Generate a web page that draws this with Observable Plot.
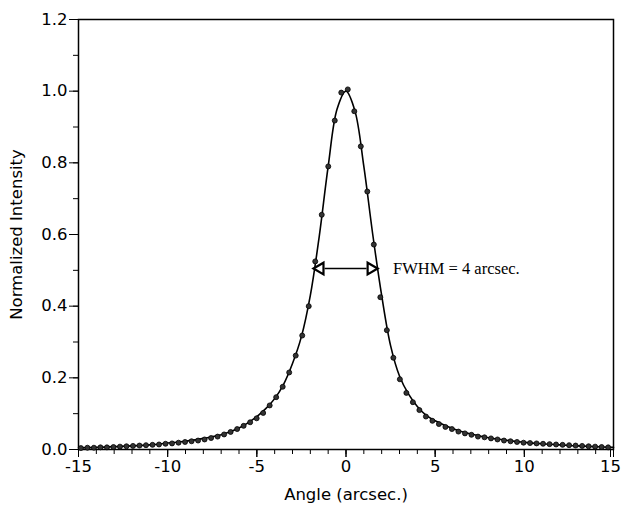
<!DOCTYPE html>
<html><head><meta charset="utf-8">
<script src="https://cdn.jsdelivr.net/npm/d3@7"></script>
<script src="https://cdn.jsdelivr.net/npm/@observablehq/plot@0.6"></script>
<style>body{margin:0;background:#fff;}</style>
</head><body><div id="chart"></div>
<script>
// Measured points (angle in arcsec, normalized intensity)
const pointX = [-14.865,-14.5,-14.135,-13.77,-13.405,-13.04,-12.675,-12.31,-11.945,-11.58,-11.215,-10.85,-10.485,-10.12,-9.755,-9.39,-9.025,-8.66,-8.295,-7.93,-7.565,-7.2,-6.835,-6.47,-6.105,-5.74,-5.375,-5.01,-4.645,-4.28,-3.915,-3.55,-3.185,-2.82,-2.455,-2.09,-1.725,-1.36,-0.995,-0.63,-0.265,0.1,0.465,0.83,1.195,1.56,1.925,2.29,2.655,3.02,3.385,3.75,4.115,4.48,4.845,5.21,5.575,5.94,6.305,6.67,7.035,7.4,7.765,8.13,8.495,8.86,9.225,9.59,9.955,10.32,10.685,11.05,11.415,11.78,12.145,12.51,12.875,13.24,13.605,13.97,14.335,14.7];
const pointY = [0.004,0.005,0.005,0.006,0.006,0.007,0.008,0.009,0.010,0.011,0.012,0.013,0.014,0.016,0.017,0.019,0.021,0.023,0.025,0.028,0.032,0.036,0.042,0.049,0.057,0.066,0.076,0.087,0.102,0.123,0.146,0.175,0.215,0.262,0.318,0.400,0.525,0.655,0.790,0.918,0.996,1.005,0.944,0.846,0.720,0.572,0.425,0.333,0.256,0.196,0.158,0.132,0.110,0.092,0.080,0.071,0.063,0.057,0.050,0.045,0.041,0.036,0.034,0.031,0.028,0.025,0.023,0.021,0.019,0.018,0.017,0.016,0.015,0.014,0.013,0.012,0.011,0.010,0.009,0.008,0.007,0.006];
// Fitted curve
const lineX = [-15,-14,-13,-12,-11,-10,-9,-8,-7,-6,-5,-4.5,-4,-3.5,-3,-2.5,-2,-1.5,-1,-0.5,0,0.5,1,1.5,2,2.5,3,3.5,4,4.5,5,6,7,8,9,10,11,12,13,14,15];
const lineY = [0.005,0.006,0.008,0.010,0.013,0.018,0.023,0.031,0.041,0.060,0.092,0.114,0.142,0.182,0.240,0.315,0.430,0.595,0.790,0.950,1.000,0.945,0.790,0.600,0.430,0.290,0.205,0.155,0.120,0.095,0.080,0.058,0.043,0.033,0.026,0.020,0.016,0.013,0.010,0.008,0.006];
// Axis ticks
const xTicks = [-15,-10,-5,0,5,10,15];
const xTickLast = [15];
const xMinor = [-15,-14,-13,-12,-11,-10,-9,-8,-7,-6,-5,-4,-3,-2,-1,0,1,2,3,4,5,6,7,8,9,10,11,12,13,14,15];
const yTicks = [0,0.2,0.4,0.6,0.8,1.0,1.2];
const yMinor = [0,0.1,0.2,0.3,0.4,0.5,0.6,0.7,0.8,0.9,1.0,1.1,1.2];
// FWHM annotation
const headX = [-1.45, 1.40];
const headRotate = [-90, 90];
const shaftX = [-1.2, 1.15];
const fwhmY = 0.505;
const fwhmLabel = "FWHM = 4 arcsec.";
const fwhmLabelX = 2.64;

const points = pointX.map((x, i) => ({x, y: pointY[i]}));
const line = lineX.map((x, i) => ({x, y: lineY[i]}));
const heads = headX.map((x, i) => ({x, y: fwhmY, rot: headRotate[i]}));

const plot = Plot.plot({
  width: 621, height: 511,
  marginLeft: 78, marginRight: 8, marginTop: 19, marginBottom: 62,
  style: {fontFamily: "'DejaVu Sans', sans-serif", fontSize: "16px", background: "white", color: "black"},
  x: {domain: [-15, 15]},
  y: {domain: [0, 1.2]},
  marks: [
    Plot.frame({stroke: "black", strokeWidth: 1.5}),
    Plot.axisX({ticks: xMinor, tickSize: 5, text: null, label: null}),
    Plot.axisX({ticks: xTicks, tickSize: 8, text: null, label: null}),
    Plot.axisX({ticks: xTicks.filter(t => !xTickLast.includes(t)), tickSize: 8, tickPadding: 3, tickFormat: d => String(d), label: "Angle (arcsec.)", labelAnchor: "center", labelArrow: "none", labelOffset: 50, fontSize: 16.5}),
    Plot.axisX({ticks: xTickLast, tickSize: 8, tickPadding: 3, tickFormat: d => String(d), label: null, fontSize: 16.5, dx: -3}),
    Plot.axisY({ticks: yMinor, tickSize: 5, text: null, label: null}),
    Plot.axisY({ticks: yTicks, tickSize: 9, tickPadding: 2, tickFormat: d3.format(".1f"), label: "Normalized Intensity", labelAnchor: "center", labelArrow: "none", labelOffset: 68, fontSize: 16.5}),
    Plot.line(line, {x: "x", y: "y", curve: "catmull-rom", stroke: "black", strokeWidth: 1.6}),
    Plot.dot(points, {x: "x", y: "y", r: 2.5, fill: "#333", stroke: "#000", strokeWidth: 0.8}),
    Plot.link([{x1: shaftX[0], x2: shaftX[1], y: fwhmY}], {x1: "x1", x2: "x2", y1: "y", y2: "y", stroke: "black", strokeWidth: 1.6}),
    Plot.dot(heads, {x: "x", y: "y", symbol: "triangle", rotate: "rot", r: 4.3, fill: "white", stroke: "black", strokeWidth: 2.2}),
    Plot.text([{x: fwhmLabelX, y: fwhmY, t: fwhmLabel}], {x: "x", y: "y", text: "t", textAnchor: "start", fontFamily: "'Liberation Serif', 'Times New Roman', serif", fontSize: 16.5, fill: "black"})
  ]
});
document.getElementById("chart").appendChild(plot);
</script>
</body></html>
